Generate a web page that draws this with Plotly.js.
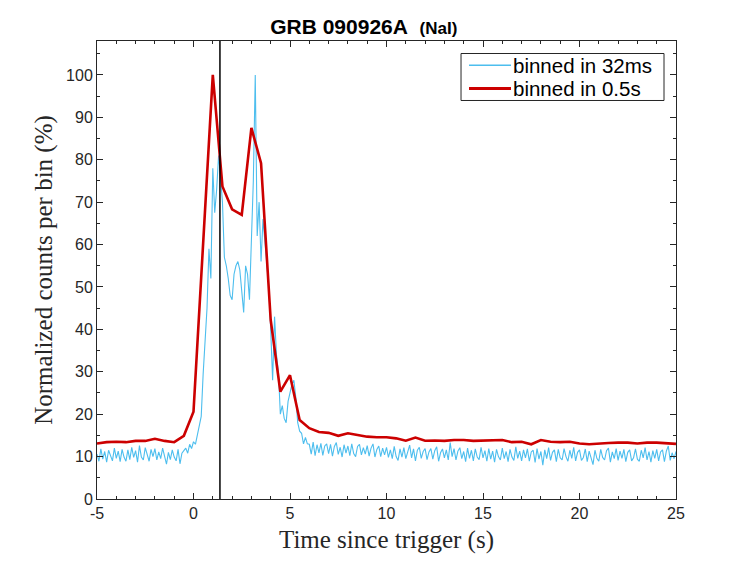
<!DOCTYPE html>
<html>
<head>
<meta charset="utf-8">
<script src="https://cdn.plot.ly/plotly-3.0.1.min.js"></script>
<style>html,body{margin:0;padding:0;background:#fff;}#chart{width:747px;height:561px;}</style>
</head>
<body>
<div id="chart"></div>
<script>
// 32 ms light curve (0.1 s step from -5 s)
const blueStart = -5.0;
const blueStep = 0.1;
const blueValues = [
  10.6, 8.9, 11.8, 9.4, 11.2, 8.7, 11.5, 10.1, 9.0, 12.0,
  9.6, 11.3, 8.8, 11.7, 9.9, 8.9, 11.6, 9.3, 12.2, 9.8,
  11.4, 8.7, 12.6, 9.9, 9.2, 12.1, 10.3, 8.9, 11.7, 10.0,
  11.9, 9.2, 11.1, 9.5, 12.0, 9.7, 8.2, 11.0, 9.3, 11.6,
  9.9, 9.0, 11.7, 8.3, 10.8, 11.4, 12.0, 10.8, 12.9, 11.9,
  13.5, 12.9, 15.0, 17.0, 19.5, 29.5, 38, 45, 59, 52,
  78, 67.5, 73, 81, 76, 70, 57, 55, 52, 48,
  47, 53, 55, 56, 54, 49, 44, 55, 53, 47,
  62, 75, 100, 62, 70, 56, 66, 60, 55, 50,
  40, 28, 43, 34, 30, 20, 22, 19, 18, 23,
  25, 27, 28, 24, 18, 16, 15.5, 13, 14.5, 13,
  12.9, 10.6, 13.4, 10.2, 12.8, 10.9, 13.1, 10.3, 12.5, 13.0,
  10.7, 12.9, 10.1, 12.4, 13.3, 10.5, 12.2, 9.9, 12.8, 10.8,
  12.5, 10.2, 13.0, 10.7, 10.0, 12.4, 12.9, 10.4, 12.1, 10.6,
  12.6, 10.1, 12.0, 13.0, 9.9, 11.7, 12.5, 10.0, 12.0, 10.4,
  12.2, 9.8, 11.6, 9.5, 12.4, 10.0, 9.1, 11.8, 9.9, 12.1,
  9.5, 11.4, 12.7, 9.7, 11.8, 9.0, 11.5, 12.2, 9.6, 11.2,
  11.9, 9.3, 11.1, 11.9, 9.4, 11.4, 12.3, 8.9, 10.9, 11.8,
  9.7, 11.6, 9.2, 13.3, 10.0, 11.9, 9.2, 11.3, 12.1, 9.5,
  11.2, 8.8, 12.0, 9.6, 11.5, 9.0, 11.8, 9.9, 9.3, 12.2,
  9.7, 11.4, 8.9, 11.9, 9.4, 11.3, 8.7, 11.7, 10.0, 9.2,
  12.0, 9.5, 11.2, 8.8, 11.7, 9.9, 9.1, 12.3, 9.6, 11.3,
  9.0, 11.6, 9.7, 11.8, 8.9, 11.1, 11.5, 8.6, 11.9, 9.4,
  11.2, 8.0, 11.6, 9.5, 12.1, 9.1, 11.0, 11.6, 8.8, 11.7,
  9.7, 9.2, 11.9, 10.0, 8.9, 11.5, 9.6, 12.2, 9.0, 11.0,
  11.6, 9.1, 9.8, 11.8, 8.8, 11.3, 9.4, 8.1, 11.5, 9.6,
  8.9, 11.7, 9.8, 9.2, 11.4, 12.0, 8.7, 11.1, 9.5, 11.9,
  9.1, 11.3, 9.6, 11.7, 8.8, 11.0, 11.6, 9.0, 9.7, 11.8,
  9.4, 8.9, 11.5, 9.7, 12.1, 9.2, 11.2, 8.7, 11.4, 9.6,
  11.7, 9.0, 11.1, 11.6, 8.8, 11.3, 12.5, 9.1, 10.9, 9.5,
  11.2
];

// 0.5 s light curve from -5 s
const redStart = -5.0;
const redStep = 0.5;
const redValues = [
  13.1, 13.4, 13.5, 13.4, 13.7, 13.7, 14.2, 13.7, 13.4, 14.9,
  20.6, 60, 100, 73.7, 68.3, 67, 87.5, 79.2, 42.2, 25.3,
  29.2, 18.6, 16.7, 15.8, 15.6, 14.9, 15.5, 15.1, 14.7, 14.55,
  14.55, 14.3, 13.75, 14.5, 13.75, 13.8, 13.7, 13.9, 13.9, 13.7,
  13.75, 13.75, 13.9, 13.4, 13.5, 12.9, 13.9, 13.5, 13.4, 13.5,
  13.1, 12.9, 13.1, 13.2, 13.3, 13.3, 13.1, 13.3, 13.3, 13.2, 13.0
];

const markerTime = 1.37;

const xTickVals = [-5, 0, 5, 10, 15, 20, 25];
const xTickText = ['-5', '0', '5', '10', '15', '20', '25'];
const yTickVals = [0, 10, 20, 30, 40, 50, 60, 70, 80, 90, 100];

const seriesNames = ['binned in 32ms', 'binned in 0.5s'];
const seriesColors = ['#4dbeee', '#cc0000'];
const seriesWidths = [1.1, 2.6];

const axisColor = '#262626';
const sans = 'Liberation Sans, Arial, Helvetica, sans-serif';
const serif = 'Liberation Serif, Times New Roman, serif';

const traces = [
  {
    type: 'scatter', mode: 'lines', name: seriesNames[0], showlegend: false,
    x0: blueStart, dx: blueStep, y: blueValues,
    line: {color: seriesColors[0], width: seriesWidths[0]}
  },
  {
    type: 'scatter', mode: 'lines', name: seriesNames[1], showlegend: false,
    x0: redStart, dx: redStep, y: redValues,
    line: {color: seriesColors[1], width: seriesWidths[1]}
  }
];

// legend box drawn in paper coordinates
const legBox = {x0: 0.6287, x1: 0.9793, y0: 0.8701, y1: 0.9727};
const legRows = [0.9470, 0.8963];
const legSample = {x0: 0.6425, x1: 0.7150};
const legTextX = 0.7165;

const shapes = [
  {type: 'line', xref: 'x', yref: 'paper', x0: markerTime, x1: markerTime, y0: 0, y1: 1,
   line: {color: '#000', width: 1.5}},
  {type: 'rect', xref: 'paper', yref: 'paper', x0: legBox.x0, x1: legBox.x1, y0: legBox.y0, y1: legBox.y1,
   fillcolor: '#fff', line: {color: axisColor, width: 1}, layer: 'above'}
];
const annotations = [];
seriesNames.forEach(function (name, i) {
  shapes.push({type: 'line', xref: 'paper', yref: 'paper',
    x0: legSample.x0, x1: legSample.x1, y0: legRows[i], y1: legRows[i],
    line: {color: seriesColors[i], width: seriesWidths[i] + 0.3}, layer: 'above'});
  annotations.push({xref: 'paper', yref: 'paper', x: legTextX, y: legRows[i],
    xanchor: 'left', yanchor: 'middle', showarrow: false, text: name,
    font: {family: sans, size: 20.5, color: '#000'}, borderpad: 0});
});

const layout = {
  width: 747, height: 561,
  margin: {l: 97, r: 71, t: 41, b: 62},
  paper_bgcolor: '#fff', plot_bgcolor: '#fff',
  showlegend: false,
  title: {
    text: '<b>GRB 090926A</b>&nbsp;&nbsp;<b><span style="font-size:17px">(NaI)</span></b>',
    font: {family: sans, size: 21, color: '#000'},
    x: 0.487, xref: 'container', xanchor: 'center',
    y: 1 - 27/561, yref: 'container', yanchor: 'middle'
  },
  xaxis: {
    range: [-5, 25], tickvals: xTickVals, ticktext: xTickText,
    ticks: 'inside', ticklen: 6, tickwidth: 1, tickcolor: axisColor,
    minor: {dtick: 1, ticks: 'inside', ticklen: 3, tickcolor: axisColor, tickwidth: 1},
    showline: true, linecolor: axisColor, linewidth: 1, mirror: 'allticks',
    showgrid: false, zeroline: false,
    tickfont: {family: sans, size: 16, color: axisColor},
    title: {text: 'Time since trigger (s)', font: {family: serif, size: 25, color: axisColor}, standoff: 9}
  },
  yaxis: {
    range: [0, 108], tickvals: yTickVals,
    ticks: 'inside', ticklen: 6, tickwidth: 1, tickcolor: axisColor,
    minor: {dtick: 5, ticks: 'inside', ticklen: 3, tickcolor: axisColor, tickwidth: 1},
    showline: true, linecolor: axisColor, linewidth: 1, mirror: 'allticks',
    showgrid: false, zeroline: false,
    tickfont: {family: sans, size: 16, color: axisColor},
    title: {text: 'Normalized counts per bin (%)', font: {family: serif, size: 25, color: axisColor}, standoff: 6}
  },
  shapes: shapes,
  annotations: annotations
};

Plotly.newPlot('chart', traces, layout, {displayModeBar: false, staticPlot: true});
</script>
</body>
</html>
